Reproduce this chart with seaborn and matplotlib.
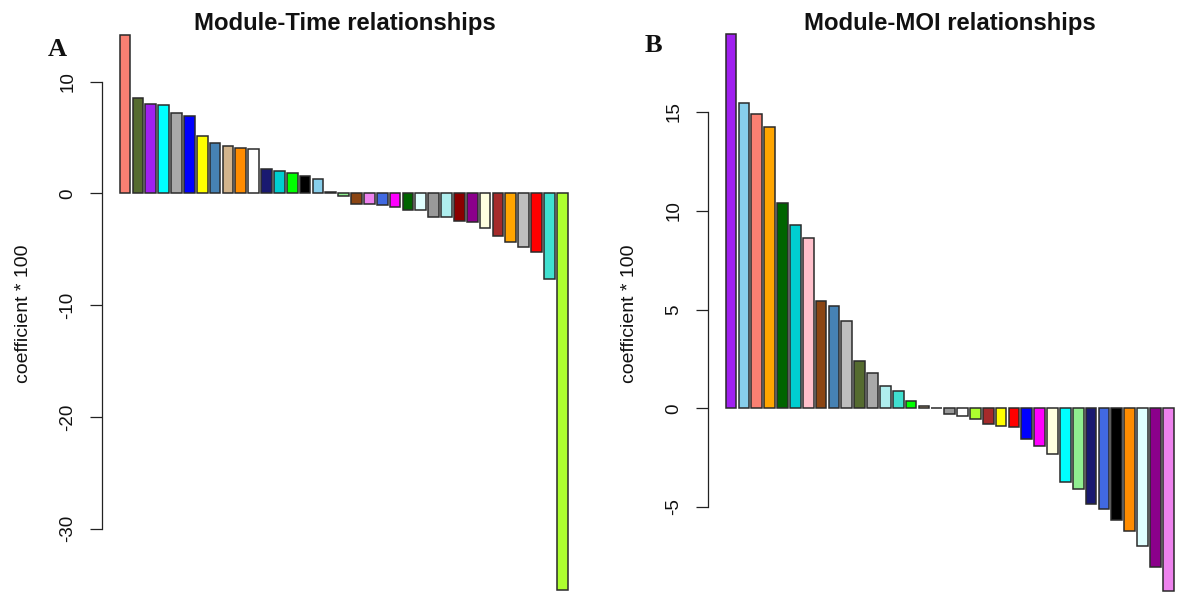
import matplotlib
matplotlib.use("Agg")
import matplotlib.pyplot as plt
import seaborn as sns
import pandas as pd

# ---------------- data ----------------
time_modules = ["salmon", "darkolivegreen", "purple", "cyan", "darkgrey", "blue", "yellow",
                "steelblue", "tan", "darkorange", "white", "midnightblue", "darkturquoise",
                "green", "black", "skyblue", "pink", "lightgreen", "saddlebrown", "violet",
                "royalblue", "magenta", "darkgreen", "lightcyan", "grey60", "paleturquoise",
                "darkred", "darkmagenta", "lightyellow", "brown", "orange", "grey", "red",
                "turquoise", "greenyellow"]
time_values = [14.2, 8.5, 8.0, 7.87, 7.18, 6.88, 5.12, 4.5, 4.26, 4.08, 3.99, 2.15, 2.02,
               1.84, 1.52, 1.28, 0.12, -0.24, -0.96, -0.99, -1.02, -1.25, -1.49, -1.52,
               -2.09, -2.12, -2.45, -2.6, -3.07, -3.79, -4.39, -4.83, -5.22, -7.67, -35.5]

moi_modules = ["purple", "skyblue", "salmon", "orange", "darkgreen", "darkturquoise", "pink",
               "saddlebrown", "steelblue", "grey", "darkolivegreen", "darkgrey",
               "paleturquoise", "turquoise", "green", "tan", "darkred", "grey60", "white",
               "greenyellow", "brown", "yellow", "red", "blue", "magenta", "lightyellow",
               "cyan", "lightgreen", "midnightblue", "royalblue", "black", "darkorange",
               "lightcyan", "darkmagenta", "violet"]
moi_values = [18.94, 15.44, 14.92, 14.24, 10.38, 9.3, 8.6, 5.43, 5.18, 4.42, 2.39, 1.77,
              1.15, 0.89, 0.39, 0.14, 0.04, -0.29, -0.37, -0.54, -0.81, -0.91, -0.96,
              -1.55, -1.89, -2.33, -3.71, -4.07, -4.83, -5.11, -5.64, -6.23, -6.97, -8.05,
              -9.25]

time_ticks = [-30, -20, -10, 0, 10]
moi_ticks = [-5, 0, 5, 10, 15]

# R colour names used by WGCNA modules
module_colors = {
    "turquoise": "#40E0D0", "blue": "#0000FF", "brown": "#A52A2A", "yellow": "#FFFF00",
    "green": "#00FF00", "red": "#FF0000", "black": "#000000", "pink": "#FFC0CB",
    "magenta": "#FF00FF", "purple": "#A020F0", "greenyellow": "#ADFF2F", "tan": "#D2B48C",
    "salmon": "#FA8072", "cyan": "#00FFFF", "midnightblue": "#191970",
    "lightcyan": "#E0FFFF", "grey60": "#999999", "lightgreen": "#90EE90",
    "lightyellow": "#FFFFE0", "royalblue": "#4169E1", "darkred": "#8B0000",
    "darkgreen": "#006400", "darkturquoise": "#00CED1", "darkgrey": "#A9A9A9",
    "orange": "#FFA500", "darkorange": "#FF8C00", "white": "#FFFFFF",
    "skyblue": "#87CEEB", "saddlebrown": "#8B4513", "steelblue": "#4682B4",
    "paleturquoise": "#AFEEEE", "violet": "#EE82EE", "darkolivegreen": "#556B2F",
    "darkmagenta": "#8B008B", "grey": "#BEBEBE",
}

# ---------------- style ----------------
sns.set_theme(style="white")
plt.rcParams["font.family"] = ["Liberation Sans", "DejaVu Sans"]

W, H = 1177, 592
fig = plt.figure(figsize=(W / 100, H / 100), dpi=100)


def px_x(p):
    return p / W


def px_y(p):
    return 1 - p / H


def panel(left_px, zero_px, px_per_unit, modules, values, ticks, title, letter,
          letter_xy, title_cx):
    pitch = 12.86
    xl = (-1.79, 34.6)
    width_px = (xl[1] - xl[0]) * pitch
    top_px = 25
    ax = fig.add_axes([px_x(left_px), 0, width_px / W, (H - top_px) / H])
    df = pd.DataFrame({"module": modules, "value": values})
    sns.barplot(data=df, x="module", y="value", hue="module", order=modules,
                palette=module_colors, legend=False, width=1 / 1.2,
                edgecolor="#2a2a2a", linewidth=1.1, saturation=1, ax=ax)
    ax.set_xlim(*xl)
    ax.set_ylim(-(H - zero_px) / px_per_unit, (zero_px - top_px) / px_per_unit)
    for s in ["top", "right", "bottom"]:
        ax.spines[s].set_visible(False)
    ax.spines["left"].set_bounds(ticks[0], ticks[-1])
    ax.spines["left"].set_color("#222222")
    ax.spines["left"].set_linewidth(0.9)
    ax.set_xticks([])
    ax.set_yticks(ticks)
    ax.set_yticklabels([str(t) for t in ticks])
    ax.tick_params(axis="y", left=True, length=8.6, width=0.9, color="#222222",
                   direction="out", pad=16, labelsize=13.5, labelcolor="#111111")
    for lbl in ax.get_yticklabels():
        lbl.set_rotation(90)
        lbl.set_ha("center")
        lbl.set_va("center")
    ax.set_xlabel("")
    ax.set_ylabel("")
    ax.patch.set_alpha(0)
    # y label
    fig.text(px_x(left_px - 78), px_y(314), "coefficient * 100", rotation=90,
             ha="center", va="center", fontsize=14, color="#111111")
    # title
    fig.text(px_x(title_cx), px_y(30), title, ha="center", va="baseline",
             fontsize=17.2, fontweight="bold", color="#111111")
    # panel letter
    fig.text(px_x(letter_xy[0]), px_y(letter_xy[1]), letter, ha="center", va="center",
             fontsize=19, fontweight="bold", family=["Liberation Serif", "DejaVu Serif"],
             color="#111111")
    return ax


panel(102, 193.3, 11.18, time_modules, time_values, time_ticks,
      "Module-Time relationships", "A", (57, 50), 345)
panel(708, 408.3, 19.75, moi_modules, moi_values, moi_ticks,
      "Module-MOI relationships", "B", (653, 46), 950)

fig.savefig("out.png", dpi=100)
